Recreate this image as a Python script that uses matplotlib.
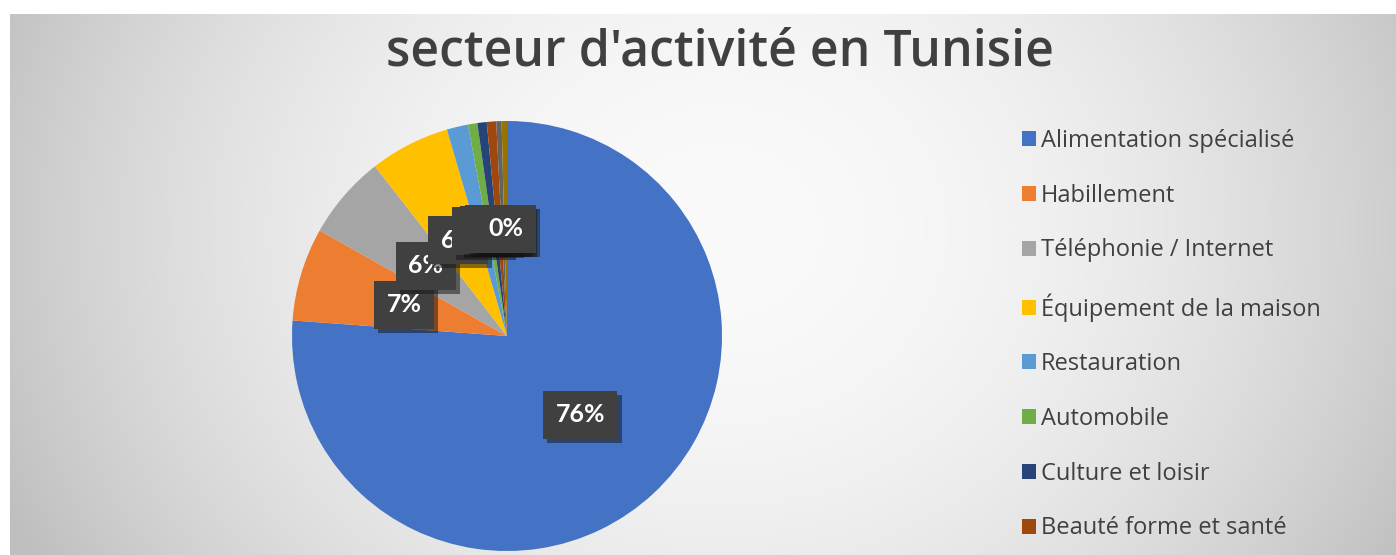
import matplotlib.pyplot as plt
import matplotlib.patheffects as pe
import numpy as np

secteurs = ['Alimentation spécialisé', 'Habillement', 'Téléphonie / Internet',
            'Équipement de la maison', 'Restauration', 'Automobile',
            'Culture et loisir', 'Beauté forme et santé']
# part of each sector (%), the two last slices have no visible legend entry
parts = [76, 7, 6.3, 6, 1.6, 0.7, 0.7, 0.7, 0.4, 0.4]
couleurs = ['#4472C4', '#ED7D31', '#A5A5A5', '#FFC000', '#5B9BD5',
            '#70AD47', '#264478', '#9E480E', '#636363', '#997300']

W, H = 1396, 555
fig = plt.figure(figsize=(W / 100, H / 100), dpi=100)

# grey radial background, white margin on top and left
yy, xx = np.mgrid[0:H, 0:W]
d2 = ((xx - 720) / 720.0) ** 2 + ((yy - 230) / 620.0) ** 2
bg = np.clip(250 - 50 * d2, 190, 252) / 255.0
bg[:14, :] = 1.0
bg[:, :10] = 1.0
bgax = fig.add_axes([0, 0, 1, 1])
bgax.imshow(np.dstack([bg, bg, bg]), aspect='auto', interpolation='bilinear')
bgax.axis('off')

cx, cy, r = 507, 336, 215
ax = fig.add_axes([(cx - r) / W, (H - cy - r) / H, 2 * r / W, 2 * r / H])
wedges, _, autotexts = ax.pie(parts, colors=couleurs, startangle=90, counterclock=False,
                              autopct='%.0f%%', pctdistance=0.5, radius=1,
                              wedgeprops=dict(linewidth=0),
                              textprops=dict(color='white', fontsize=18, fontweight='bold',
                                             family=['Lato', 'DejaVu Sans']))
for t in autotexts:
    t.set_bbox(dict(boxstyle='square,pad=0.5', facecolor='#404040', edgecolor='none'))
    t.get_bbox_patch().set_path_effects([pe.SimplePatchShadow(offset=(3, -3), alpha=0.5),
                                         pe.Normal()])
ax.set_xlim(-1, 1)
ax.set_ylim(-1, 1)
ax.set_aspect('equal')
ax.axis('off')

fig.text(0.516, 1 - 52 / H, "secteur d'activité en Tunisie", ha='center', va='center',
         fontsize=36, color='#404040', fontweight='semibold', family=['Open Sans', 'DejaVu Sans'])

leg = fig.legend(wedges[:len(secteurs)], secteurs, loc='upper left',
                 bbox_to_anchor=(1022 / W, 1 - 129 / H), frameon=False,
                 prop=dict(family=['Open Sans', 'DejaVu Sans'], size=17),
                 labelspacing=1.3, handlelength=0.6, handleheight=0.6,
                 handletextpad=0.2, borderpad=0, borderaxespad=0)
for t in leg.get_texts():
    t.set_color('#404040')

fig.savefig('out.png', dpi=100)
